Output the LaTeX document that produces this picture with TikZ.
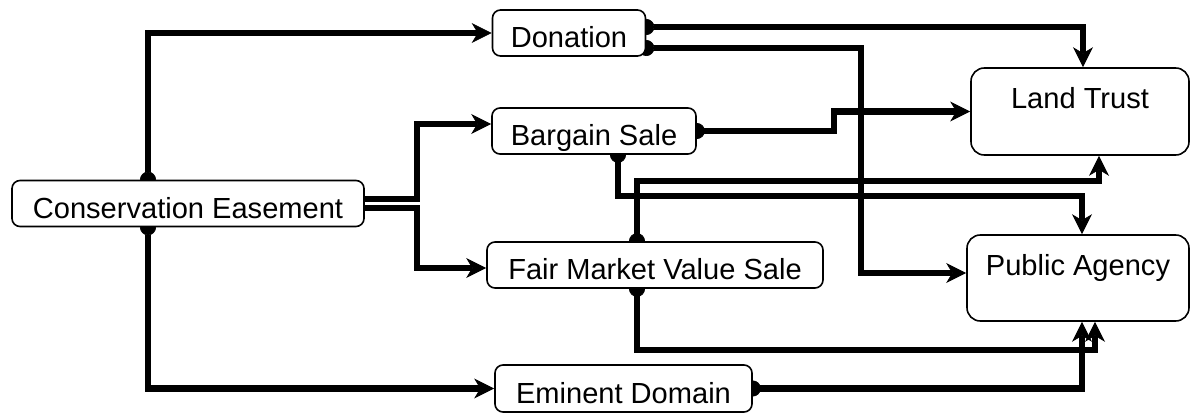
\documentclass[tikz,border=0pt]{standalone}
\usepackage{fontspec}
\setmainfont{Liberation Sans}
\usetikzlibrary{positioning}
\usetikzlibrary{calc}
\usetikzlibrary{arrows.meta}
\usetikzlibrary{backgrounds}

\begin{document}
\begin{tikzpicture}[x=0.75pt,y=-0.75pt,
	box/.style={draw,line width=1.2pt,fill=white,rounded corners=6pt,inner sep=2pt,minimum height=34.5pt,
		text height=22pt,text depth=0pt,font=\fontsize{21.8}{26}\selectfont},
	bigbox/.style={box,rounded corners=10pt,minimum height=65.25pt,text height=22pt,text depth=26.4pt},
	flow/.style={line width=4.6pt,-{Stealth[length=15pt,width=15pt,inset=4.5pt,line width=0.5pt]}},
	link/.style={flow,{Circle[length=12pt,line width=0.5pt]}-{Stealth[length=15pt,width=15pt,inset=4.5pt,line width=0.5pt]},shorten <=-6pt}]
							\useasboundingbox (0,0) rectangle (1190,413);
							
							\node[box,minimum width=264pt] (ce) at (188,203.5) {Conservation Easement};
							\node[box,minimum width=114.75pt] (don) at (569,33) {Donation};
							\node[box,minimum width=153pt] (bar) at (594,131) {Bargain Sale};
							\node[box,minimum width=252pt] (fmv) at (655,265) {Fair Market Value Sale};
							\node[box,minimum width=192.75pt,minimum height=35.25pt] (emd) at (623.5,388.5) {Eminent Domain};
							\node[bigbox,minimum width=163.5pt] (lt) at (1080,111.5) {Land Trust};
							\node[bigbox,minimum width=166.5pt,minimum height=64.5pt] (pa) at (1078,278) {Public Agency};
							
							\begin{scope}[on background layer]
							\draw[link] ($(ce.north)+(-40,0)$) |- (don.west);
							\draw[link] ($(ce.south)+(-40,0)$) |- (emd.west);
							\draw[flow] ($(ce.east)+(0,-4.5)$) -- ++(52,0) |- ($(bar.west)+(0,-7)$);
							\draw[flow] ($(ce.east)+(0,4.5)$) -- ++(52,0) |- ($(fmv.west)+(0,3)$);
							
							\draw[link] ($(don.east)+(0,-6)$) -| ($(lt.north)+(3,0)$);
							\draw[link] ($(don.east)+(0,15)$) -- ++(215,0) |- ($(pa.west)+(0,-5)$);
							\draw[link] (bar.east) -- ++(137,0) |- (lt.west);
							\draw[link] ($(bar.south)+(24,0)$) -- ++(0,41) -| ($(pa.north)+(4,0)$);
							\draw[link] ($(fmv.north)+(-18,0)$) -- ++(0,-60) -| ($(lt.south)+(19,0)$);
							\draw[link] ($(fmv.south)+(-18,0)$) -- ++(0,61) -| ($(pa.south)+(17,0)$);
							\draw[link] (emd.east) -| ($(pa.south)+(4,0)$);
							\end{scope}
						\end{tikzpicture}
\end{document}
